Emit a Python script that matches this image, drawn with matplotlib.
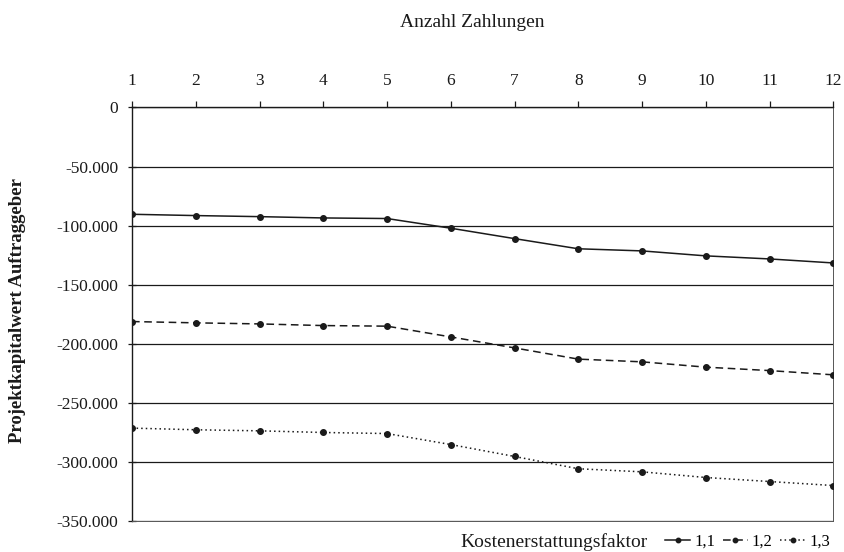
import matplotlib
matplotlib.use("Agg")
import matplotlib.pyplot as plt
from matplotlib.ticker import FuncFormatter

# Anzahl Zahlungen
zahlungen = [1, 2, 3, 4, 5, 6, 7, 8, 9, 10, 11, 12]

# Projektkapitalwert des Auftraggebers je Kostenerstattungsfaktor
kw_11 = [-90400, -91500, -92400, -93500, -94000, -102200, -111000, -119600,
         -121400, -125600, -128200, -131600]
kw_12 = [-181200, -182300, -183200, -184600, -185100, -194200, -203500, -213000,
         -215300, -219800, -222700, -226300]
kw_13 = [-271400, -272800, -273700, -275100, -276000, -285300, -295400, -305800,
         -308400, -313200, -316600, -320000]

labels = ["1,1", "1,2", "1,3"]
y_ticks = [0, -50000, -100000, -150000, -200000, -250000, -300000, -350000]

plt.rcParams["font.family"] = ["Liberation Serif", "DejaVu Serif"]
ink = "#1a1a1a"

fig = plt.figure(figsize=(8.44, 5.52), dpi=100)
ax = fig.add_axes([0.1564, 0.0562, 0.8309, 0.7491])

lw = 1.1
ax.plot(zahlungen, kw_11, color=ink, lw=lw, ls="-", marker="o", ms=4,
        label=labels[0], zorder=3)
ax.plot(zahlungen, kw_12, color=ink, lw=lw, ls=(0, (5, 3)), marker="o", ms=4,
        label=labels[1], zorder=3)
ax.plot(zahlungen, kw_13, color=ink, lw=lw, ls=(0, (1, 2)), marker="o", ms=4,
        label=labels[2], zorder=3)

ax.set_xlim(1, 12)
ax.set_ylim(-350000, 0)
ax.set_xticks(zahlungen)
ax.set_yticks(y_ticks)
ax.yaxis.set_major_formatter(
    FuncFormatter(lambda v, p: "0" if v == 0 else f"{int(v):,}".replace(",", ".")))

ax.xaxis.tick_top()
ax.xaxis.set_label_position("top")
ax.tick_params(axis="x", direction="out", length=4, width=0.9, labelsize=12.5,
               pad=9, colors=ink)
ax.tick_params(axis="y", direction="inout", length=6, width=0.9, labelsize=12.5,
               pad=7, colors=ink)

ax.grid(axis="y", color=ink, lw=0.9)
for s in ["left", "top"]:
    ax.spines[s].set_color(ink)
    ax.spines[s].set_linewidth(1.0)
for s in ["right", "bottom"]:
    ax.spines[s].set_color("#555555")
    ax.spines[s].set_linewidth(0.7)
    ax.spines[s].set_linestyle((0, (4, 1, 1, 1)))

fig.text(0.560, 0.960, "Anzahl Zahlungen", ha="center", va="center",
         fontsize=14, color=ink)
fig.text(0.0213, 0.438, "Projektkapitalwert Auftraggeber", rotation=90,
         ha="center", va="center", fontsize=13.5, fontweight="bold",
         color=ink)

leg_y = 1 - 542 / 552
leg = fig.legend(loc="center right", bbox_to_anchor=(830 / 844, leg_y),
                 ncol=3, frameon=False, handlelength=1.5, handletextpad=0.25,
                 columnspacing=0.45, fontsize=12, markerscale=0.8,
                 borderpad=0, borderaxespad=0)
fig.text(648 / 844, leg_y, "Kostenerstattungsfaktor", ha="right",
         va="center", fontsize=14, color=ink)

fig.savefig("out.png", dpi=100)
